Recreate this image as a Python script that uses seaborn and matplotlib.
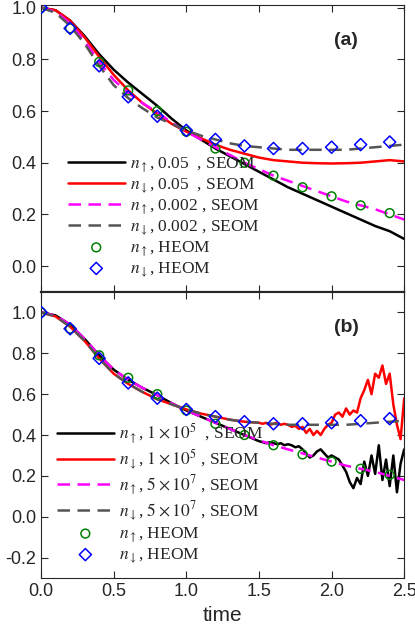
import numpy as np
import matplotlib
matplotlib.use("Agg")
import matplotlib.pyplot as plt
import seaborn as sns

# smooth curves sampled every 0.1
t_s = np.round(np.arange(0, 2.51, 0.1), 2)
up_005 = [1.0, 0.99, 0.95, 0.89, 0.82, 0.76, 0.71, 0.665, 0.62, 0.57, 0.525, 0.49, 0.455, 0.425,
          0.395, 0.365, 0.335, 0.305, 0.28, 0.255, 0.23, 0.205, 0.18, 0.155, 0.135, 0.105]
dn_005 = [1.0, 0.99, 0.95, 0.885, 0.81, 0.74, 0.68, 0.63, 0.59, 0.55, 0.52, 0.495, 0.47, 0.45,
          0.435, 0.42, 0.41, 0.405, 0.40, 0.398, 0.397, 0.398, 0.40, 0.405, 0.41, 0.405]
up_conv = [1.0, 0.985, 0.94, 0.87, 0.79, 0.72, 0.67, 0.63, 0.595, 0.555, 0.52, 0.49, 0.46, 0.43,
           0.40, 0.375, 0.35, 0.33, 0.31, 0.29, 0.27, 0.25, 0.235, 0.22, 0.20, 0.18]
dn_conv = [1.0, 0.98, 0.93, 0.86, 0.775, 0.70, 0.65, 0.61, 0.575, 0.55, 0.525, 0.505, 0.49, 0.475,
           0.465, 0.46, 0.455, 0.45, 0.45, 0.45, 0.45, 0.45, 0.455, 0.46, 0.465, 0.47]

# noisy tails (panel b), t = 1.5 .. 2.5 every 0.025
t_n = np.round(np.arange(1.5, 2.5001, 0.025), 3)
up_noisy = [0.37, 0.365, 0.36, 0.365, 0.36, 0.355, 0.36, 0.35, 0.355, 0.35, 0.34, 0.345, 0.33,
            0.31, 0.29, 0.30, 0.32, 0.33, 0.31, 0.29, 0.30, 0.29, 0.28, 0.25, 0.22, 0.17, 0.14,
            0.19, 0.16, 0.27, 0.20, 0.30, 0.21, 0.35, 0.18, 0.28, 0.15, 0.30, 0.12, 0.26, 0.33]
dn_noisy = [0.46, 0.455, 0.46, 0.45, 0.455, 0.46, 0.45, 0.455, 0.45, 0.44, 0.445, 0.43, 0.44,
            0.41, 0.43, 0.40, 0.42, 0.40, 0.43, 0.45, 0.46, 0.50, 0.51, 0.49, 0.53, 0.50, 0.52,
            0.51, 0.58, 0.62, 0.67, 0.60, 0.70, 0.68, 0.74, 0.65, 0.70, 0.55, 0.45, 0.38, 0.58]

# HEOM reference points
t_h = np.round(np.arange(0, 2.41, 0.2), 2)
heom_up = [1.0, 0.92, 0.79, 0.68, 0.60, 0.52, 0.455, 0.40, 0.35, 0.305, 0.27, 0.235, 0.205]
heom_dn = [1.0, 0.92, 0.775, 0.655, 0.58, 0.525, 0.49, 0.465, 0.455, 0.455, 0.46, 0.47, 0.48]

labels_a = [r"$n_{\uparrow}$, 0.05  , SEOM", r"$n_{\downarrow}$, 0.05  , SEOM",
            r"$n_{\uparrow}$, 0.002 , SEOM", r"$n_{\downarrow}$, 0.002 , SEOM"]
labels_b = [r"$n_{\uparrow}$, $1\times10^5$  , SEOM", r"$n_{\downarrow}$, $1\times10^5$ , SEOM",
            r"$n_{\uparrow}$, $5\times10^7$ , SEOM", r"$n_{\downarrow}$, $5\times10^7$ , SEOM"]
labels_h = [r"$n_{\uparrow}$, HEOM", r"$n_{\downarrow}$, HEOM"]

sns.set_style("ticks")
plt.rcParams["font.family"] = ["Liberation Sans", "DejaVu Sans"]
plt.rcParams["mathtext.fontset"] = "stix"

fig = plt.figure(figsize=(4.15, 6.36), dpi=100)
ax_a = fig.add_axes([0.099, 0.541, 0.875, 0.451])
ax_b = fig.add_axes([0.099, 0.091, 0.875, 0.450])


def bottom_curves(base, noisy):
    tt = np.concatenate([t_s[t_s < 1.5], t_n])
    yy = np.concatenate([np.array(base)[t_s < 1.5], noisy])
    return tt, yy


up_b_t, up_b_y = bottom_curves(up_conv, up_noisy)
dn_b_t, dn_b_y = bottom_curves(dn_conv, dn_noisy)

panels = [
    (ax_a, [(t_s, up_005), (t_s, dn_005)], labels_a, (-0.1, 1.01), "(a)", (0.03, -0.01)),
    (ax_b, [(up_b_t, up_b_y), (dn_b_t, dn_b_y)], labels_b, (-0.3, 1.1), "(b)", (0.0, -0.01)),
]
for ax, solid, labs, ylim, tag, anchor in panels:
    sns.lineplot(x=solid[0][0], y=solid[0][1], ax=ax, color="black", lw=1.8, label=labs[0])
    sns.lineplot(x=solid[1][0], y=solid[1][1], ax=ax, color="red", lw=1.8, label=labs[1])
    sns.lineplot(x=t_s, y=up_conv, ax=ax, color="magenta", lw=1.8, dashes=(5, 3), label=labs[2])
    sns.lineplot(x=t_s, y=dn_conv, ax=ax, color="#555555", lw=1.8, dashes=(5, 3), label=labs[3])
    sns.scatterplot(x=t_h, y=heom_up, ax=ax, marker="o", s=40, facecolor="none",
                    edgecolor="green", linewidth=1.1, label=labels_h[0], zorder=5)
    sns.scatterplot(x=t_h, y=heom_dn, ax=ax, marker="D", s=38, facecolor="none",
                    edgecolor="blue", linewidth=1.1, label=labels_h[1], zorder=5)
    ax.set_xlim(0, 2.5)
    ax.set_ylim(*ylim)
    ax.set_yticks(np.arange(-0.2 if ylim[0] < -0.2 else 0.0, 1.01, 0.2))
    ax.yaxis.set_major_formatter(matplotlib.ticker.FormatStrFormatter("%.1f"))
    ax.set_xticks(np.arange(0, 2.51, 0.5))
    ax.tick_params(direction="in", top=True, right=True, labelsize=13, length=5)
    ax.set_ylabel("")
    ax.text(0.84, 0.86, tag, transform=ax.transAxes, fontsize=14, fontweight="bold", ha="center")
    ax.legend(loc="lower left", frameon=False, handlelength=3.3, handletextpad=0.3,
              labelspacing=0.12, prop={"family": "Liberation Serif", "size": 12.5},
              bbox_to_anchor=anchor)

ax_a.tick_params(labelbottom=False)
ax_b.set_xlabel("time", fontsize=15)
ax_a.spines["bottom"].set_linewidth(1.6)

fig.savefig("out.png", dpi=100)
